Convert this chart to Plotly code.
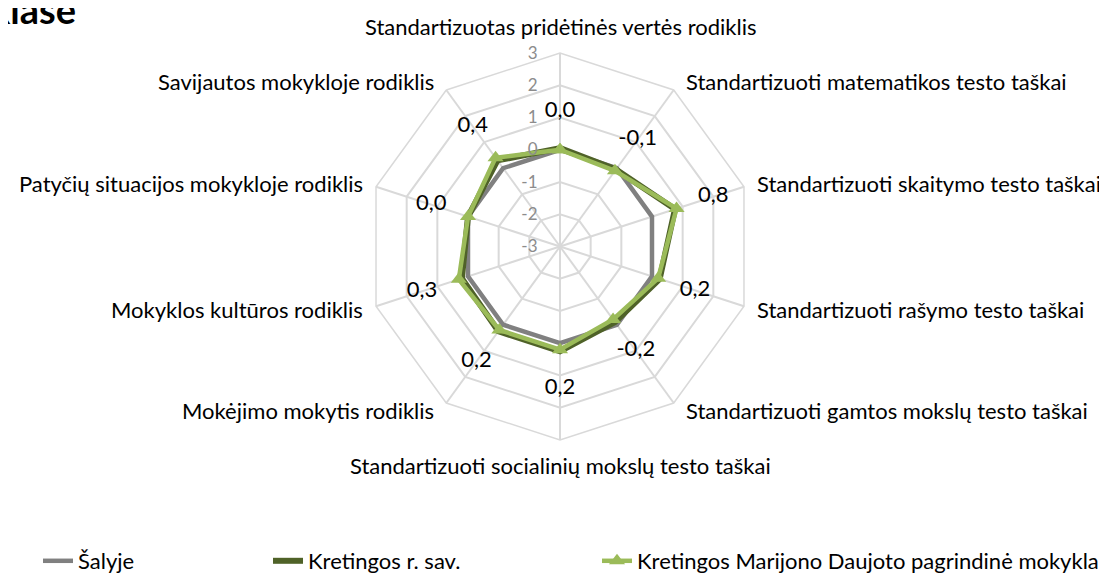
import math
import plotly.graph_objects as go

categories = [
    "Standartizuotas pridėtinės vertės rodiklis",
    "Standartizuoti matematikos testo taškai",
    "Standartizuoti skaitymo testo taškai",
    "Standartizuoti rašymo testo taškai",
    "Standartizuoti gamtos mokslų testo taškai",
    "Standartizuoti socialinių mokslų testo taškai",
    "Mokėjimo mokytis rodiklis",
    "Mokyklos kultūros rodiklis",
    "Patyčių situacijos mokykloje rodiklis",
    "Savijautos mokykloje rodiklis",
]
salyje = [0, 0, 0, 0, 0, 0, 0, 0, 0, 0]
kretingos_sav = [0.05, -0.05, 0.75, 0.25, -0.1, 0.25, 0.25, 0.2, 0.0, 0.3]
mokykla = [0.0, -0.1, 0.8, 0.2, -0.2, 0.2, 0.2, 0.3, 0.0, 0.4]
radial_ticks = [-3, -2, -1, 0, 1, 2, 3]

FONT = "Lato"
LABEL_OFFSET = 1.2

def close(v):
    return list(v) + [v[0]]

theta = close(categories)

fig = go.Figure()
fig.add_trace(go.Scatterpolar(
    r=close(salyje), theta=theta, mode="lines", name="Šalyje",
    line=dict(color="#808080", width=4.5), legend="legend", cliponaxis=True,
))
fig.add_trace(go.Scatterpolar(
    r=close(kretingos_sav), theta=theta, mode="lines", name="Kretingos r. sav.",
    line=dict(color="#4F6228", width=6), legend="legend2", cliponaxis=True,
))
fig.add_trace(go.Scatterpolar(
    r=close(mokykla), theta=theta, mode="lines+markers",
    name="Kretingos Marijono Daujoto pagrindinė mokykla",
    line=dict(color="#9BBB59", width=4.5),
    marker=dict(symbol="triangle-up", size=14, color="#9BBB59"),
    legend="legend3", cliponaxis=True,
))
fig.add_trace(go.Scatterpolar(
    r=[v + LABEL_OFFSET for v in mokykla], theta=categories, mode="text",
    text=[f"{v:.1f}".replace(".", ",") for v in mokykla],
    textposition="middle center",
    textfont=dict(size=22, color="#000000", family=FONT),
    showlegend=False, hoverinfo="skip", cliponaxis=True,
))

legend_common = dict(yanchor="middle", y=(574 - 559) / 574, xanchor="left",
                     font=dict(size=22, family=FONT, color="#000000"),
                     itemwidth=30, bgcolor="rgba(0,0,0,0)")

W, H = 1107, 574
cx, cy, R = 552.0, 241.0, 195.5

# category labels placed around the outer ring, Excel-style
annotations = []
for i, cat in enumerate(categories):
    a = math.radians(90 - 36 * i)
    vx = cx + R * math.cos(a)
    vy = cy - R * math.sin(a)
    if abs(math.cos(a)) < 0.01:
        x, xanchor = vx, "center"
        y = vy - 27 if math.sin(a) > 0 else vy + 26
    else:
        xanchor = "left" if math.cos(a) > 0 else "right"
        x = vx + (9 if math.cos(a) > 0 else -9)
        y = vy - 10 * math.sin(a)
    annotations.append(dict(
        text=cat, x=x / W, y=1 - y / H, xref="paper", yref="paper",
        xanchor=xanchor, yanchor="middle", showarrow=False,
        font=dict(size=22, color="#000000", family=FONT),
    ))

annotations.append(dict(
    text="<b>klase</b>", x=70 / W, y=1 - 26 / H, xref="paper", yref="paper",
    xanchor="right", yanchor="bottom", showarrow=False,
    font=dict(size=38, color="#000000", family=FONT),
))

fig.update_layout(
    width=W, height=H,
    margin=dict(l=0, r=0, t=0, b=0),
    paper_bgcolor="white",
    font=dict(family=FONT, color="#000000"),
    polar=dict(
        domain=dict(x=[(cx - R) / W, (cx + R) / W],
                    y=[(H - cy - R) / H, (H - cy + R) / H]),
        bgcolor="white",
        gridshape="linear",
        radialaxis=dict(
            range=[-3, 3], tickvals=radial_ticks, ticktext=[str(t) for t in radial_ticks],
            angle=90, tickangle=90, side="counterclockwise", showline=False,
            ticks="outside", ticklen=16, tickcolor="rgba(0,0,0,0)",
            gridcolor="#D9D9D9", gridwidth=1.5,
            tickfont=dict(size=17, color="#8C8C8C", family=FONT),
        ),
        angularaxis=dict(
            rotation=90, direction="clockwise",
            gridcolor="#D9D9D9", gridwidth=1.5,
            linecolor="#D9D9D9", linewidth=1.5,
            ticks="", showticklabels=False,
        ),
    ),
    legend=dict(x=30 / W, **legend_common),
    legend2=dict(x=260 / W, **legend_common),
    legend3=dict(x=589 / W, **legend_common),
    annotations=annotations,
)

fig.write_html("out.html")
